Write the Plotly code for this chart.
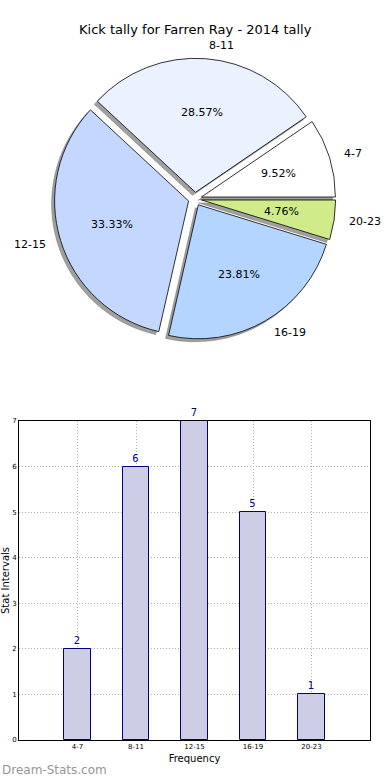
import math
import plotly.graph_objects as go

# ---- data ----
categories = ["4-7", "8-11", "12-15", "16-19", "20-23"]
counts = [2, 6, 7, 5, 1]
pie_colors = ["#ffffff", "#eaf1ff", "#c4d8ff", "#b3d5ff", "#cfeb8a"]
title_text = "Kick tally for Farren Ray - 2014 tally"
y_ticks = [0, 1, 2, 3, 4, 5, 6, 7]
x_title = "Frequency"
y_title = "Stat Intervals"
watermark = "Dream-Stats.com"

# ---- layout geometry (pixels) ----
W, H = 390, 780
FONT = "DejaVu Sans"
pull = 0.05
cx, cy = 195, 199
r = 134
R = r * (1 + pull)
sh_dx, sh_dy = -3, 3
total = sum(counts)
# first slice starts at 3 o'clock going counter-clockwise (matplotlib default)
rotation = 90 - 360 * counts[0] / total


def dom(cxp, cyp):
    return dict(x=[(cxp - R) / W, (cxp + R) / W],
                y=[(H - cyp - R) / H, (H - cyp + R) / H])


fig = go.Figure()

# shadow pie
fig.add_trace(go.Pie(
    labels=categories, values=counts, sort=False, direction="counterclockwise",
    rotation=rotation, pull=[pull] * len(counts), textinfo="none", hoverinfo="skip",
    marker=dict(colors=["rgba(120,120,120,0.7)"] * len(counts),
                line=dict(color="rgba(100,100,100,0.7)", width=0.6)),
    domain=dom(cx + sh_dx, cy + sh_dy), showlegend=False,
))
# main pie
fig.add_trace(go.Pie(
    labels=categories, values=counts, sort=False, direction="counterclockwise",
    rotation=rotation, pull=[pull] * len(counts), textinfo="none",
    marker=dict(colors=pie_colors, line=dict(color="#000000", width=0.8)),
    domain=dom(cx, cy), showlegend=False,
))

# pie text annotations (matplotlib style: labels at 1.1r, pct at 0.6r)
annotations = []
cum = 0
for lab, v in zip(categories, counts):
    mid = math.radians(360 * (cum + v / 2) / total)
    cum += v
    c, s = math.cos(mid), math.sin(mid)
    rl = 1.1 * r + pull * r
    rp = 0.6 * r + pull * r
    annotations.append(dict(
        x=(cx + rl * c) / W, y=(H - cy + rl * s) / H, xref="paper", yref="paper",
        text=lab, showarrow=False, xanchor="left" if c > 0 else "right",
        yanchor="middle", font=dict(family=FONT, size=11, color="#000000")))
    annotations.append(dict(
        x=(cx + rp * c) / W, y=(H - cy + rp * s) / H, xref="paper", yref="paper",
        text=f"{v / total * 100:.2f}%", showarrow=False, xanchor="center",
        yanchor="middle", font=dict(family=FONT, size=11, color="#000000")))

annotations.append(dict(x=0.5, y=1 - 30 / H, xref="paper", yref="paper",
                        text=title_text, showarrow=False, xanchor="center",
                        yanchor="middle",
                        font=dict(family=FONT, size=13, color="#000000")))
annotations.append(dict(x=0, y=1 - 770 / H, xref="paper", yref="paper",
                        text=watermark, showarrow=False, xanchor="left",
                        yanchor="middle",
                        font=dict(family=FONT, size=12, color="#969696")))

# bar chart
fig.add_trace(go.Bar(
    x=categories, y=counts, width=0.45, text=[str(v) for v in counts],
    textposition="outside", cliponaxis=False,
    textfont=dict(family=FONT, size=10, color="#000080"),
    marker=dict(color="#cdcde6", line=dict(color="#000080", width=1)),
    xaxis="x", yaxis="y", showlegend=False,
))

x0, x1 = 19, 370
y0, y1 = 421, 740
fig.update_layout(
    width=W, height=H, margin=dict(l=0, r=0, t=0, b=0, pad=0, autoexpand=False),
    paper_bgcolor="#ffffff", plot_bgcolor="#ffffff",
    font=dict(family=FONT, color="#000000"),
    annotations=annotations,
    xaxis=dict(domain=[x0 / W, x1 / W], range=[-1, 5], type="category",
               showline=True, linecolor="#000000", linewidth=1, mirror=True,
               showgrid=True, gridcolor="#b0b0b0", griddash="1px,2px", gridwidth=1,
               tickfont=dict(size=7), ticks="", zeroline=False, automargin=False,
               title=dict(text=x_title, font=dict(size=10), standoff=4)),
    yaxis=dict(domain=[(H - y1) / H, (H - y0) / H], range=[0, 7],
               tickvals=y_ticks, showline=True, linecolor="#000000", linewidth=1,
               mirror=True, showgrid=True, gridcolor="#b0b0b0", griddash="1px,2px",
               gridwidth=1, tickfont=dict(size=7), ticks="", zeroline=False,
               automargin=False,
               title=dict(text=y_title, font=dict(size=10), standoff=2)),
    bargap=0,
)

fig.write_html("out.html", config={"displayModeBar": False},
               post_script="document.body.style.margin='0';")
